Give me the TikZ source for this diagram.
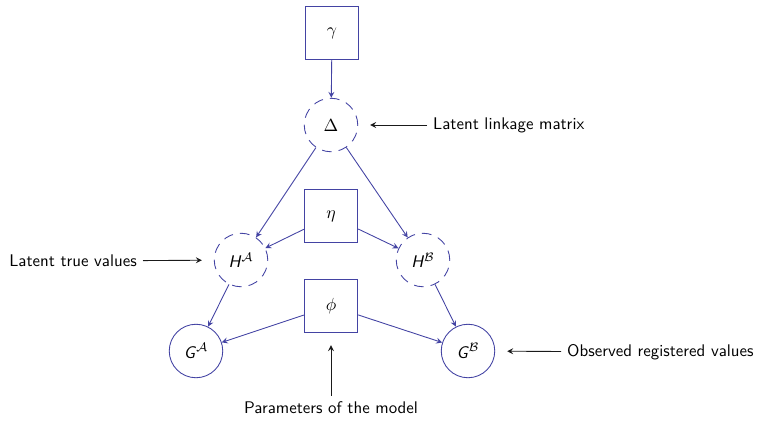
\documentclass[tikz,border=0pt]{standalone}
\usepackage{amsmath}
\usepackage{amssymb}
\usepackage{xcolor}
\usepackage{tikz}
\definecolor{plateblue}{HTML}{4343A3}
\definecolor{notegray}{HTML}{1A1A1A}

\begin{document}
\begin{tikzpicture}[x=0.02cm,y=-0.02cm,every node/.style={font=\sffamily\fontsize{9.6}{11}\selectfont},
  param/.style={draw=plateblue,line width=0.5pt,minimum size=1.07cm,inner sep=0pt},
  latent/.style={draw=plateblue,line width=0.5pt,dash pattern=on 5.5pt off 4pt,circle,minimum size=1.07cm,inner sep=0pt},
  observed/.style={draw=plateblue,line width=0.5pt,circle,minimum size=1.07cm,inner sep=0pt},
  edge/.style={draw=plateblue,line width=0.5pt,->,>=stealth},
  note/.style={draw=notegray,line width=0.5pt,->,>=stealth,shorten >=0.24cm}]
  \useasboundingbox (0,0) rectangle (761,420);
  % hyper-parameters and linkage
  \node[param] (gamma) at (332,33) {$\gamma$};
  \node[latent] (Delta) at (331,125) {$\Delta$};
  \node[param] (eta) at (331,216) {$\eta$};
  \node[param] (phi) at (331,306) {$\phi$};
  % true and registered values
  \node[latent] (HA) at (241,260) {\textit{H}$^{\mathcal{A}}$};
  \node[latent] (HB) at (423,260) {\textit{H}$^{\mathcal{B}}$};
  \node[observed] (GA) at (196,351) {\textit{G}$^{\mathcal{A}}$};
  \node[observed] (GB) at (468,351) {\textit{G}$^{\mathcal{B}}$};

  \draw[edge] (gamma) -- (Delta);
  \draw[edge] (Delta) -- (HA);
  \draw[edge] (Delta) -- (HB);
  \draw[edge] (eta) -- (HA);
  \draw[edge] (eta) -- (HB);
  \draw[edge] (HA) -- (GA);
  \draw[edge] (HB) -- (GB);
  \draw[edge] (phi) -- (GA);
  \draw[edge] (phi) -- (GB);

  % explanations
  \node[anchor=west] (linknote) at (427,125) {Latent linkage matrix};
  \node[anchor=east] (truenote) at (143,261) {Latent true values};
  \node[anchor=west] (obsnote) at (561,352) {Observed registered values};
  \node (parnote) at (331,408) {Parameters of the model};
  \draw[note] (linknote) -- (Delta);
  \draw[note] (truenote) -- (HA);
  \draw[note] (obsnote) -- (GB);
  \draw[note] (parnote) -- (phi);
\end{tikzpicture}
\end{document}
